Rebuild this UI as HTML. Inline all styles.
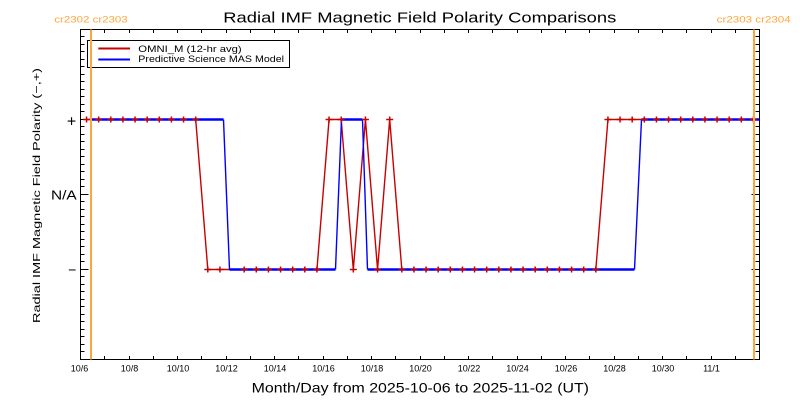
<!DOCTYPE html>
<html><head><meta charset="utf-8"><style>
html,body{margin:0;padding:0;background:#fff;}
svg{display:block;}
text{font-family:"Liberation Sans",sans-serif;}
</style></head><body>
<svg width="800" height="400" viewBox="0 0 800 400" xmlns="http://www.w3.org/2000/svg">
<defs>
<path id="m" d="M-3.5 0h7M0 -3v6" stroke="#c80000" stroke-width="1.5" fill="none"/>
</defs>
<rect width="800" height="400" fill="#fff"/>
<text x="223.3" y="22.7" font-size="15" textLength="393" lengthAdjust="spacingAndGlyphs" fill="#000">Radial IMF Magnetic Field Polarity Comparisons</text>
<text x="54.3" y="22.7" font-size="9.5" textLength="73.4" lengthAdjust="spacingAndGlyphs" fill="#ffa53c">cr2302 cr2303</text>
<text x="716.7" y="22.7" font-size="9.5" textLength="74" lengthAdjust="spacingAndGlyphs" fill="#ffa53c">cr2303 cr2304</text>
<rect x="80.5" y="29.5" width="679" height="330" fill="none" stroke="#000" stroke-width="1"/>
<g stroke="#000" stroke-width="1">
<path d="M104.5 359.5v-3.5M129.5 359.5v-3.5M153.5 359.5v-3.5M177.5 359.5v-3.5M201.5 359.5v-3.5M226.5 359.5v-3.5M250.5 359.5v-3.5M274.5 359.5v-3.5M298.5 359.5v-3.5M323.5 359.5v-3.5M347.5 359.5v-3.5M371.5 359.5v-3.5M395.5 359.5v-3.5M420.5 359.5v-3.5M444.5 359.5v-3.5M468.5 359.5v-3.5M492.5 359.5v-3.5M517.5 359.5v-3.5M541.5 359.5v-3.5M565.5 359.5v-3.5M589.5 359.5v-3.5M614.5 359.5v-3.5M638.5 359.5v-3.5M662.5 359.5v-3.5M686.5 359.5v-3.5M711.5 359.5v-3.5M735.5 359.5v-3.5"/>
<path d="M104.5 29.5v3.5M129.5 29.5v3.5M153.5 29.5v3.5M177.5 29.5v3.5M201.5 29.5v3.5M226.5 29.5v3.5M250.5 29.5v3.5M274.5 29.5v3.5M298.5 29.5v3.5M323.5 29.5v3.5M347.5 29.5v3.5M371.5 29.5v3.5M395.5 29.5v3.5M420.5 29.5v3.5M444.5 29.5v3.5M468.5 29.5v3.5M492.5 29.5v3.5M517.5 29.5v3.5M541.5 29.5v3.5M565.5 29.5v3.5M589.5 29.5v3.5M614.5 29.5v3.5M638.5 29.5v3.5M662.5 29.5v3.5M686.5 29.5v3.5M711.5 29.5v3.5M735.5 29.5v3.5"/>
<path d="M80.5 36.5h4M80.5 44.5h4M80.5 51.5h4M80.5 59.5h4M80.5 66.5h4M80.5 74.5h4M80.5 81.5h4M80.5 89.5h4M80.5 96.5h4M80.5 104.5h4M80.5 111.5h4M80.5 119.5h8M80.5 126.5h4M80.5 134.5h4M80.5 141.5h4M80.5 149.5h4M80.5 156.5h4M80.5 164.5h4M80.5 171.5h4M80.5 179.5h4M80.5 186.5h4M80.5 194.5h8M80.5 201.5h4M80.5 209.5h4M80.5 216.5h4M80.5 224.5h4M80.5 231.5h4M80.5 239.5h4M80.5 246.5h4M80.5 254.5h4M80.5 261.5h4M80.5 269.5h8M80.5 276.5h4M80.5 284.5h4M80.5 291.5h4M80.5 299.5h4M80.5 306.5h4M80.5 314.5h4M80.5 321.5h4M80.5 329.5h4M80.5 336.5h4M80.5 344.5h4M80.5 351.5h4"/>
<path d="M759.5 36.5h-4M759.5 44.5h-4M759.5 51.5h-4M759.5 59.5h-4M759.5 66.5h-4M759.5 74.5h-4M759.5 81.5h-4M759.5 89.5h-4M759.5 96.5h-4M759.5 104.5h-4M759.5 111.5h-4M759.5 119.5h-8M759.5 126.5h-4M759.5 134.5h-4M759.5 141.5h-4M759.5 149.5h-4M759.5 156.5h-4M759.5 164.5h-4M759.5 171.5h-4M759.5 179.5h-4M759.5 186.5h-4M759.5 194.5h-8M759.5 201.5h-4M759.5 209.5h-4M759.5 216.5h-4M759.5 224.5h-4M759.5 231.5h-4M759.5 239.5h-4M759.5 246.5h-4M759.5 254.5h-4M759.5 261.5h-4M759.5 269.5h-8M759.5 276.5h-4M759.5 284.5h-4M759.5 291.5h-4M759.5 299.5h-4M759.5 306.5h-4M759.5 314.5h-4M759.5 321.5h-4M759.5 329.5h-4M759.5 336.5h-4M759.5 344.5h-4M759.5 351.5h-4"/>
</g>
<g font-size="9" text-anchor="middle" fill="#000">
<text x="79.5" y="371.5">10/6</text>
<text x="129.5" y="371.5">10/8</text>
<text x="178" y="371.5">10/10</text>
<text x="226.5" y="371.5">10/12</text>
<text x="275" y="371.5">10/14</text>
<text x="323.5" y="371.5">10/16</text>
<text x="372" y="371.5">10/18</text>
<text x="420.5" y="371.5">10/20</text>
<text x="469" y="371.5">10/22</text>
<text x="517.5" y="371.5">10/24</text>
<text x="566" y="371.5">10/26</text>
<text x="614.5" y="371.5">10/28</text>
<text x="663" y="371.5">10/30</text>
<text x="711.5" y="371.5">11/1</text>
</g>
<text x="251.7" y="392.7" font-size="14" textLength="337.3" lengthAdjust="spacingAndGlyphs" fill="#000">Month/Day from 2025-10-06 to 2025-11-02 (UT)</text>
<text x="71.5" y="126.5" font-size="16" text-anchor="middle" fill="#000">+</text>
<text x="51" y="199.5" font-size="12.5" textLength="25.7" lengthAdjust="spacingAndGlyphs" fill="#000">N/A</text>
<text x="72.2" y="274.5" font-size="14" text-anchor="middle" fill="#000">−</text>
<text transform="translate(40,195.5) rotate(-90)" x="0" y="0" font-size="10.5" text-anchor="middle" textLength="255" lengthAdjust="spacingAndGlyphs" fill="#000">Radial IMF Magnetic Field Polarity (−,+)</text>
<polyline fill="none" stroke="#c80000" stroke-width="1.4" points="86.56,119.5 195.69,119.5 207.81,269.5 316.94,269.5 329.06,119.5 341.19,119.5 353.31,269.5 365.44,119.5 377.56,269.5 389.69,119.5 401.81,269.5 595.81,269.5 607.94,119.5 753.44,119.5"/>
<g stroke="#0000ff" fill="none">
<path stroke-width="2.5" d="M90 119.5H223.5M229.5 269.5H335.5M341.5 119.5H362.5M367.5 269.5H634.5M641.5 119.5H759.5"/>
<path stroke-width="1.4" d="M223.5 119.5L229.5 269.5M335.5 269.5L341.5 119.5M362.5 119.5L367.5 269.5M634.5 269.5L641.5 119.5"/>
</g>
<g>
<use href="#m" x="86.56" y="119.5"/><use href="#m" x="98.68" y="119.5"/><use href="#m" x="110.81" y="119.5"/><use href="#m" x="122.93" y="119.5"/><use href="#m" x="135.06" y="119.5"/><use href="#m" x="147.18" y="119.5"/><use href="#m" x="159.31" y="119.5"/><use href="#m" x="171.43" y="119.5"/><use href="#m" x="183.56" y="119.5"/><use href="#m" x="195.69" y="119.5"/>
<use href="#m" x="207.81" y="269.5"/><use href="#m" x="219.93" y="269.5"/><use href="#m" x="244.19" y="269.5"/><use href="#m" x="256.31" y="269.5"/><use href="#m" x="268.44" y="269.5"/><use href="#m" x="280.56" y="269.5"/><use href="#m" x="292.69" y="269.5"/><use href="#m" x="304.81" y="269.5"/><use href="#m" x="316.94" y="269.5"/>
<use href="#m" x="329.06" y="119.5"/><use href="#m" x="341.19" y="119.5"/><use href="#m" x="353.31" y="269.5"/><use href="#m" x="365.44" y="119.5"/><use href="#m" x="377.56" y="269.5"/><use href="#m" x="389.69" y="119.5"/>
<use href="#m" x="401.81" y="269.5"/><use href="#m" x="413.94" y="269.5"/><use href="#m" x="426.06" y="269.5"/><use href="#m" x="438.19" y="269.5"/><use href="#m" x="450.31" y="269.5"/><use href="#m" x="462.44" y="269.5"/><use href="#m" x="474.56" y="269.5"/><use href="#m" x="486.69" y="269.5"/><use href="#m" x="498.81" y="269.5"/><use href="#m" x="510.94" y="269.5"/><use href="#m" x="523.06" y="269.5"/><use href="#m" x="535.19" y="269.5"/><use href="#m" x="547.31" y="269.5"/><use href="#m" x="559.44" y="269.5"/><use href="#m" x="571.56" y="269.5"/><use href="#m" x="583.69" y="269.5"/><use href="#m" x="595.81" y="269.5"/>
<use href="#m" x="607.94" y="119.5"/><use href="#m" x="620.06" y="119.5"/><use href="#m" x="632.19" y="119.5"/><use href="#m" x="644.31" y="119.5"/><use href="#m" x="656.44" y="119.5"/><use href="#m" x="668.56" y="119.5"/><use href="#m" x="680.69" y="119.5"/><use href="#m" x="692.81" y="119.5"/><use href="#m" x="704.94" y="119.5"/><use href="#m" x="717.06" y="119.5"/><use href="#m" x="729.19" y="119.5"/><use href="#m" x="741.31" y="119.5"/><use href="#m" x="753.44" y="119.5"/>
</g>
<rect x="87.5" y="40.5" width="202" height="27" fill="none" stroke="#000" stroke-width="1"/>
<line x1="98.3" y1="48.5" x2="130" y2="48.5" stroke="#c80000" stroke-width="2"/>
<line x1="98.3" y1="59.5" x2="130" y2="59.5" stroke="#0000ff" stroke-width="2"/>
<text x="138.3" y="52" font-size="9.5" textLength="103.4" lengthAdjust="spacingAndGlyphs" fill="#000">OMNI_M (12-hr avg)</text>
<text x="138.3" y="61.8" font-size="9.5" textLength="145.7" lengthAdjust="spacingAndGlyphs" fill="#000">Predictive Science MAS Model</text>
<line x1="91" y1="29.5" x2="91" y2="359.5" stroke="#ffa53c" stroke-width="2"/>
<line x1="754" y1="29.5" x2="754" y2="359.5" stroke="#ffa53c" stroke-width="2"/>
</svg>
</body></html>
